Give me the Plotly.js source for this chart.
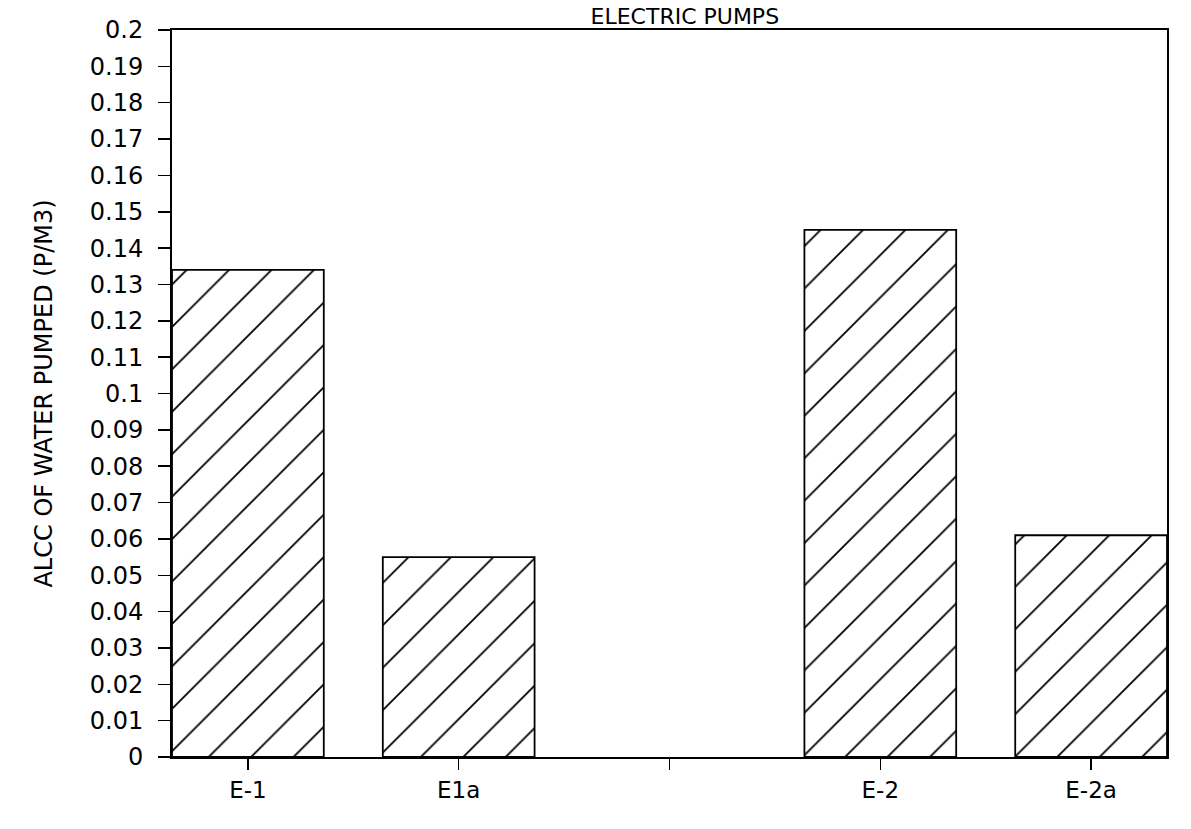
<!DOCTYPE html>
<html>
<head>
<meta charset="utf-8">
<script src="https://cdn.plot.ly/plotly-3.0.1.min.js"></script>
<style>
  html, body { margin: 0; padding: 0; background: #ffffff; }
  #chart { width: 1191px; height: 829px; }
</style>
</head>
<body>
<div id="chart"></div>
<script>
// Data
const categories = ["E-1", "E1a", " ", "E-2", "E-2a"];
const alccValues = [0.134, 0.055, null, 0.145, 0.061];
const yTickValues = [0, 0.01, 0.02, 0.03, 0.04, 0.05, 0.06, 0.07, 0.08, 0.09, 0.1,
                     0.11, 0.12, 0.13, 0.14, 0.15, 0.16, 0.17, 0.18, 0.19, 0.2];
const yTickLabels = ["0", "0.01", "0.02", "0.03", "0.04", "0.05", "0.06", "0.07", "0.08", "0.09", "0.1",
                     "0.11", "0.12", "0.13", "0.14", "0.15", "0.16", "0.17", "0.18", "0.19", "0.2"];
const chartTitle = "ELECTRIC PUMPS";
const yAxisTitle = "ALCC OF WATER PUMPED (P/M3)";

const FONT = "DejaVu Sans, Liberation Sans, Arial, sans-serif";

const trace = {
  type: "bar",
  x: categories,
  y: alccValues,
  width: 0.72,
  marker: {
    color: "#ffffff",
    line: { color: "#000000", width: 1.8 },
    pattern: { shape: "/", fgcolor: "#000000", bgcolor: "#ffffff", size: 30, solidity: 0.06 }
  },
  hoverinfo: "x+y",
  showlegend: false
};

const layout = {
  width: 1191,
  height: 829,
  paper_bgcolor: "#ffffff",
  plot_bgcolor: "#ffffff",
  margin: { l: 172, r: 24, t: 30, b: 72 },
  font: { family: FONT, color: "#000000" },
  title: {
    text: chartTitle,
    font: { family: FONT, size: 22, color: "#000000" },
    x: 0.575, xanchor: "center",
    y: 0.99, yanchor: "top"
  },
  xaxis: {
    type: "category",
    categoryorder: "array",
    categoryarray: categories,
    range: [-0.36, 4.36],
    showline: true, linecolor: "#000000", linewidth: 2, mirror: true,
    ticks: "outside", ticklen: 11, tickwidth: 1.5, tickcolor: "#000000",
    ticklabelstandoff: 0,
    showgrid: false, zeroline: false,
    tickfont: { family: FONT, size: 23, color: "#000000" }
  },
  yaxis: {
    range: [0, 0.2],
    tickmode: "array",
    tickvals: yTickValues,
    ticktext: yTickLabels,
    showline: true, linecolor: "#000000", linewidth: 2, mirror: true,
    ticks: "outside", ticklen: 12, tickwidth: 1.5, tickcolor: "#000000",
    ticklabelstandoff: 10,
    showgrid: false, zeroline: false,
    tickfont: { family: FONT, size: 24, color: "#000000" },
    title: {
      text: yAxisTitle,
      font: { family: FONT, size: 24, color: "#000000" },
      standoff: 30
    }
  },
  bargap: 0.28
};

Plotly.newPlot("chart", [trace], layout, { displayModeBar: false, staticPlot: true });
</script>
</body>
</html>
